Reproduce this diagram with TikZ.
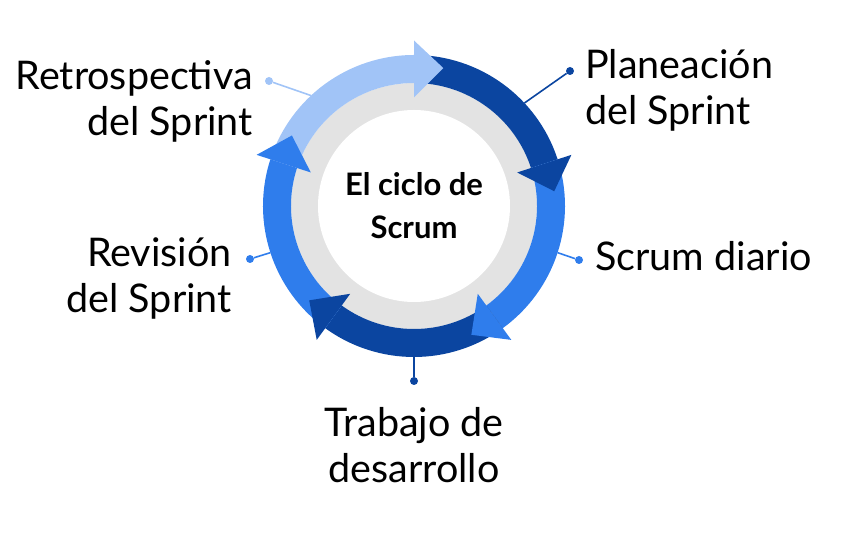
\documentclass[tikz,border=0pt]{standalone}
\usepackage{fontspec}
\setmainfont{Lato}
\definecolor{scdark}{HTML}{0B45A0}
\definecolor{scmid}{HTML}{2F7DEC}
\definecolor{sclight}{HTML}{A1C4F7}
\definecolor{scgrey}{HTML}{E3E3E3}

\begin{document}
\begin{tikzpicture}[x=1pt,y=1pt]
\tikzstyle{lbl}=[font=\fontsize{39.5}{46}\selectfont,inner sep=0pt]
\tikzstyle{ldot}=[circle,fill,inner sep=0pt,minimum size=8pt]
\tikzstyle{lnk}=[line width=1.6pt]
\useasboundingbox (0,0) rectangle (860,543);
\coordinate (c) at (414,337);
% disco central
\fill[scgrey] (c) circle (123);
\fill[white] (c) circle (96);
\node[font=\bfseries\fontsize{31}{43}\selectfont,align=center,inner sep=0pt] (titulo) at (c) {El ciclo de\\Scrum};
% anillo
\foreach \s/\e/\col in {162/90/sclight,90/18/scdark,18/-54/scmid,-54/-126/scdark,-126/-198/scmid}
  \fill[\col] ([shift={(\s:151)}]c) arc (\s:\e:151) -- ([shift={(\e:123)}]c) arc (\e:\s:123) -- cycle;
\foreach \e/\col in {90/sclight,18/scdark,-54/scmid,-126/scdark,-198/scmid}
  \fill[\col] ([shift={(\e:165.5)}]c) -- ([shift={(\e-12:141)}]c) -- ([shift={(\e:108.5)}]c) -- cycle;
% etiquetas
\coordinate (r1) at ([shift={(43:151)}]c);
\coordinate (r2) at ([shift={(-18:151)}]c);
\coordinate (r3) at ([shift={(-90:151)}]c);
\coordinate (r4) at ([shift={(198:151)}]c);
\coordinate (r5) at ([shift={(133:151)}]c);
\node[ldot,scdark] (d1) at (570,472) {};
\node[ldot,scmid] (d2) at (579,283) {};
\node[ldot,scdark] (d3) at (414,162) {};
\node[ldot,scmid] (d4) at (250,284) {};
\node[ldot,sclight] (d5) at (269,462) {};
\draw[lnk,scdark] (r1) -- (d1);
\draw[lnk,scmid] (r2) -- (d2);
\draw[lnk,scdark] (r3) -- (d3);
\draw[lnk,scmid] (r4) -- (d4);
\draw[lnk,sclight] (r5) -- (d5);
\node[lbl,anchor=base west,align=left] (planea) at (585,418) {Planeación\\del Sprint};
\node[lbl,anchor=base west] (diario) at (595,272) {Scrum diario};
\node[lbl,anchor=base,align=center] (trabajo) at (414,60) {Trabajo de\\desarrollo};
\node[lbl,anchor=base east,align=right] (revision) at (232,230) {Revisión\\del Sprint};
\node[lbl,anchor=base east,align=right] (retro) at (253,407) {Retrospectiva\\del Sprint};
\end{tikzpicture}
\end{document}
